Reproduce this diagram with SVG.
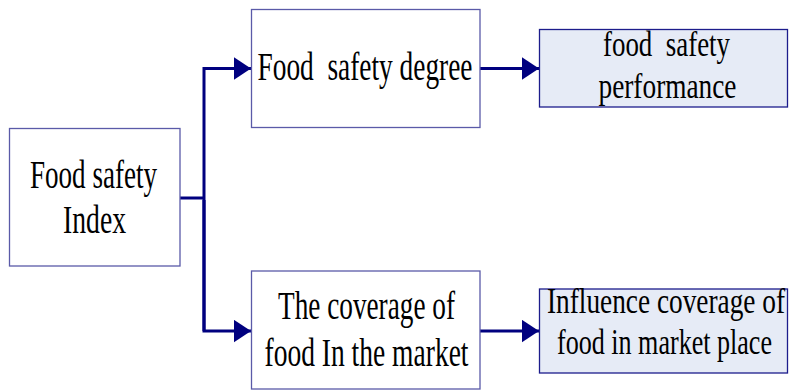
<svg xmlns="http://www.w3.org/2000/svg" width="789" height="390" viewBox="0 0 789 390">
<style>
.box{fill:#ffffff;stroke:#5a5aa8;stroke-width:1.3}
.box2{fill:#e6ebf6;stroke:#1c1c8c;stroke-width:1.3}
.t{font-family:"Liberation Serif","Times New Roman",serif;fill:#000;text-anchor:start}
.big{font-size:39px}
.sm{font-size:35px}
.c{fill:none;stroke:#00007f;stroke-width:3}
</style>
<defs>
<marker id="ah" markerUnits="userSpaceOnUse" markerWidth="18" markerHeight="24" refX="17.5" refY="11.5" orient="auto">
<path d="M0,0 L17.5,11.5 L0,23 z" fill="#00007f"/>
</marker>
</defs>
<g id="connectors">
<path class="c" d="M180,198 H204"/>
<path class="c" d="M204,331 V68.5 H251" marker-end="url(#ah)"/>
<path class="c" d="M204,200 V331 H251" marker-end="url(#ah)"/>
<path class="c" d="M480,68.5 H539" marker-end="url(#ah)"/>
<path class="c" d="M480,331 H539" marker-end="url(#ah)"/>
</g>
<g id="food-safety-index">
<rect class="box" x="9.5" y="128.5" width="170.5" height="137.5"/>
<text class="t big" x="30" y="188" textLength="127" lengthAdjust="spacingAndGlyphs">Food safety</text>
<text class="t big" x="63" y="233" textLength="63" lengthAdjust="spacingAndGlyphs">Index</text>
</g>
<g id="food-safety-degree">
<rect class="box" x="251.5" y="9.5" width="228.5" height="118"/>
<text class="t big" x="257.5" y="80" textLength="215" lengthAdjust="spacingAndGlyphs" xml:space="preserve">Food  safety degree</text>
</g>
<g id="coverage-of-food">
<rect class="box" x="251.5" y="271" width="228.5" height="118"/>
<text class="t big" x="278" y="319" textLength="177" lengthAdjust="spacingAndGlyphs">The coverage of</text>
<text class="t big" x="264.5" y="366" textLength="204" lengthAdjust="spacingAndGlyphs">food In the market</text>
</g>
<g id="food-safety-performance">
<rect class="box2" x="539.5" y="29.5" width="248" height="77.5"/>
<text class="t sm" x="603" y="56" textLength="127" lengthAdjust="spacingAndGlyphs" xml:space="preserve">food  safety</text>
<text class="t sm" x="598.5" y="98" textLength="138" lengthAdjust="spacingAndGlyphs">performance</text>
</g>
<g id="influence-coverage">
<rect class="box2" x="539.5" y="289" width="248" height="84"/>
<text class="t sm" x="547" y="313" textLength="238" lengthAdjust="spacingAndGlyphs">Influence coverage of</text>
<text class="t sm" x="557" y="354" textLength="215" lengthAdjust="spacingAndGlyphs">food in market place</text>
</g>
</svg>
